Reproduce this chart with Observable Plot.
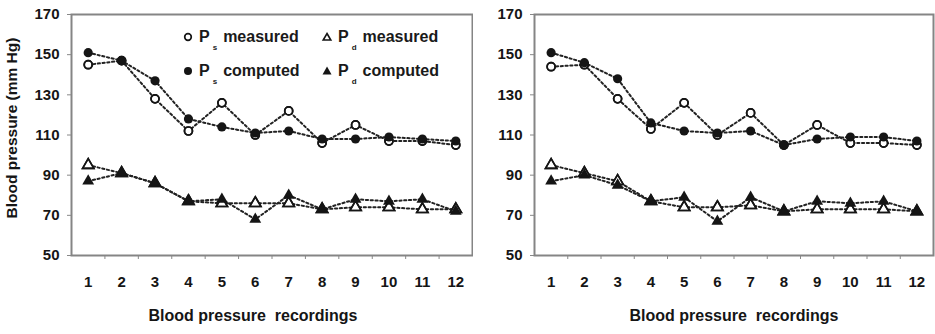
<!DOCTYPE html>
<html>
<head>
<meta charset="utf-8">
<script src="https://cdn.jsdelivr.net/npm/d3@7"></script>
<script src="https://cdn.jsdelivr.net/npm/@observablehq/plot@0.6"></script>
<style>
  html, body { margin: 0; padding: 0; background: #fff; }
  #wrap { position: relative; width: 935px; height: 334px; display: flex; font-family: "Liberation Sans", Arial, sans-serif; font-weight: bold; color: #1a1a1a; }
  .item { position: absolute; display: flex; align-items: center; height: 20px; font-size: 16px; white-space: nowrap; }
  .item svg { display: block; }
  .sub { font-size: 8px; position: relative; top: 10px; margin-left: 3px; }
</style>
</head>
<body>
<div id="wrap"></div>
<script>
// ---- data ----
const recordings = [1, 2, 3, 4, 5, 6, 7, 8, 9, 10, 11, 12];
const yTicks = [50, 70, 90, 110, 130, 150, 170];

// left panel
const leftPsMeasured = [145, 147, 128, 112, 126, 110, 122, 106, 115, 107, 107, 105];
const leftPsComputed = [151, 147, 137, 118, 114, 111, 112, 108, 108, 109, 108, 107];
const leftPdMeasured = [95, 91, 86, 77, 76, 76, 76, 73, 74, 74, 73, 73];
const leftPdComputed = [87, 91, 86, 77, 78, 68, 80, 73, 78, 77, 78, 72];

// right panel
const rightPsMeasured = [144, 145, 128, 113, 126, 110, 121, 105, 115, 106, 106, 105];
const rightPsComputed = [151, 146, 138, 116, 112, 111, 112, 105, 108, 109, 109, 107];
const rightPdMeasured = [95, 91, 87, 77, 74, 74, 75, 72, 73, 73, 73, 72];
const rightPdComputed = [87, 90, 85, 77, 79, 67, 79, 72, 77, 76, 77, 72];

const yTitle = "Blood pressure (mm Hg)";
const xTitle = "Blood pressure\u00a0 recordings";

function rows(arr) { return recordings.map((r, i) => ({rec: r, value: arr[i]})); }

const boundaries = recordings.slice(0, -1).map(d => d + 0.5);

function panel({width, marginLeft, marginRight, showYTitle, xTitleDx, ps, psc, pd, pdc}) {
  const ink = "#151515";
  const lineOpts = {x: "rec", y: "value", stroke: "#222", strokeWidth: 2, strokeDasharray: "2.2,2.6"};
  const series = [ps, psc, pd, pdc].map(rows);
  return Plot.plot({
    width, height: 334,
    marginLeft, marginRight, marginTop: 14, marginBottom: 79,
    style: {fontFamily: "'Liberation Sans', Arial, sans-serif", fontWeight: "bold", fontSize: "15px", color: ink, background: "transparent"},
    x: {type: "linear", domain: [0.5, 12.5]},
    y: {domain: [50, 170]},
    marks: [
      Plot.axisY(yTicks, {tickSize: 4, tickPadding: 8, stroke: "#888", fill: ink, label: null, fontSize: 15, fontWeight: "bold"}),
      Plot.axisX(recordings, {tickSize: 0, tickPadding: 21, fill: ink, label: null, fontSize: 15, fontWeight: "bold"}),
      Plot.axisX(boundaries, {tickSize: 4, stroke: "#888", tickFormat: () => "", label: null}),
      ...series.map(d => Plot.line(d, lineOpts)),
      Plot.dot(series[0], {x: "rec", y: "value", r: 4, fill: "white", stroke: ink, strokeWidth: 1.7}),
      Plot.dot(series[2], {x: "rec", y: "value", symbol: "triangle", r: 4.2, fill: "white", stroke: ink, strokeWidth: 1.6}),
      Plot.dot(series[1], {x: "rec", y: "value", r: 4.6, fill: ink, stroke: "none"}),
      Plot.dot(series[3], {x: "rec", y: "value", symbol: "triangle", r: 4.4, fill: ink, stroke: "none"}),
      Plot.dot(series[0], {x: "rec", y: "value", r: 4, fill: "none", stroke: ink, strokeWidth: 1.7}),
      Plot.dot(series[2], {x: "rec", y: "value", symbol: "triangle", r: 4.2, fill: "none", stroke: ink, strokeWidth: 1.6}),
      Plot.frame({stroke: "#858585", strokeWidth: 2}),
      showYTitle ? Plot.text([yTitle], {frameAnchor: "left", textAnchor: "middle", rotate: -90, dx: -59, dy: -7, fontSize: 15.5, fontWeight: "bold", fill: ink}) : null,
      Plot.text([xTitle], {frameAnchor: "bottom", textAnchor: "middle", dy: 60, dx: xTitleDx, fontSize: 16, fontWeight: "bold", fill: ink, lineAnchor: "middle"})
    ]
  });
}

const wrap = document.getElementById("wrap");
wrap.appendChild(panel({width: 473, marginLeft: 71, marginRight: 1, showYTitle: true, xTitleDx: -19,
  ps: leftPsMeasured, psc: leftPsComputed, pd: leftPdMeasured, pdc: leftPdComputed}));
wrap.appendChild(panel({width: 462, marginLeft: 61, marginRight: 2, showYTitle: false, xTitleDx: 0,
  ps: rightPsMeasured, psc: rightPsComputed, pd: rightPdMeasured, pdc: rightPdComputed}));

// ---- legend (inside left panel) ----
const legendItems = [
  {sym: "circle", filled: false, sub: "s", text: "measured", left: 182, top: 27},
  {sym: "triangle", filled: false, sub: "d", text: "measured", left: 321, top: 27},
  {sym: "circle", filled: true, sub: "s", text: "computed", left: 182, top: 61},
  {sym: "triangle", filled: true, sub: "d", text: "computed", left: 321, top: 61}
];
for (const it of legendItems) {
  const div = document.createElement("div");
  div.className = "item";
  div.style.left = it.left + "px";
  div.style.top = it.top + "px";
  let shape;
  if (it.sym === "circle") {
    shape = it.filled
      ? `<circle cx="6" cy="6" r="4" fill="#151515"/>`
      : `<circle cx="6" cy="6" r="3.3" fill="white" stroke="#151515" stroke-width="1.7"/>`;
  } else {
    shape = it.filled
      ? `<path d="M6,1.5 L10.5,9.5 L1.5,9.5 Z" fill="#151515"/>`
      : `<path d="M6,2.5 L9.8,9 L2.2,9 Z" fill="white" stroke="#151515" stroke-width="1.6"/>`;
  }
  div.innerHTML = `<svg width="12" height="12">${shape}</svg><span style="margin-left:5px">P</span><span class="sub">${it.sub}</span><span style="margin-left:6px">${it.text}</span>`;
  wrap.appendChild(div);
}
</script>
</body>
</html>
